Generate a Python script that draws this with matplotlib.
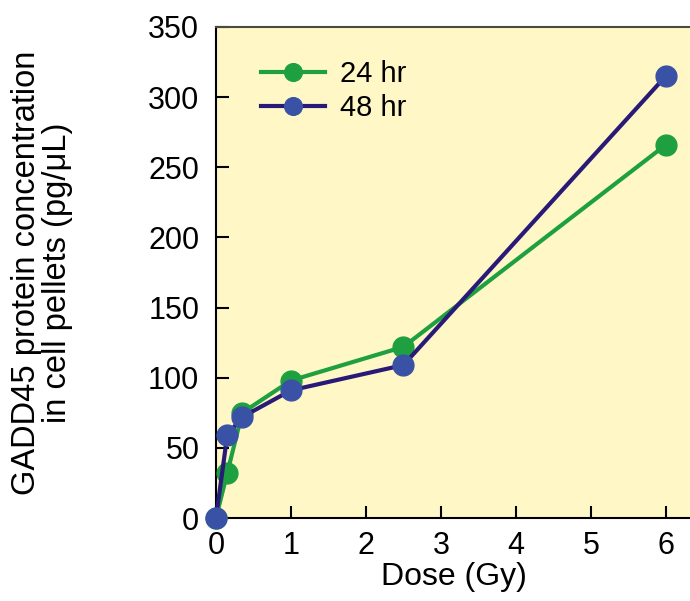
import matplotlib.pyplot as plt

plt.rcParams['font.family'] = ['Liberation Sans', 'DejaVu Sans']

# dose (Gy) and GADD45 concentration (pg/uL)
dose = [0, 0.15, 0.35, 1, 2.5, 6]
conc_24hr = [0, 32, 75, 98, 122, 266]
conc_48hr = [0, 59, 72, 91, 109, 315]

fig = plt.figure(figsize=(6.9, 6.01), dpi=100)
ax = fig.add_axes([216 / 690, 1 - 518 / 601, 476 / 690, 491 / 601])
ax.set_facecolor('#fff8c6')

ax.plot(dose, conc_24hr, color='#1fa040', lw=3, marker='o', ms=15,
        mfc='#1fa040', mec='#1fa040', label='24 hr', clip_on=False, zorder=3)
ax.plot(dose, conc_48hr, color='#2a1a78', lw=3, marker='o', ms=15,
        mfc='#3a52a6', mec='#3a52a6', label='48 hr', clip_on=False, zorder=4)

ax.set_xlim(0, 6.35)
ax.set_ylim(0, 350)
ax.set_xticks([0, 1, 2, 3, 4, 5, 6])
ax.set_yticks([0, 50, 100, 150, 200, 250, 300, 350])

ax.spines['right'].set_visible(False)
ax.spines['top'].set_color('#4a4a40')
for s in ['left', 'bottom', 'top']:
    ax.spines[s].set_linewidth(1.5)

ax.tick_params(direction='in', length=9, width=1.5, labelsize=22)
ax.tick_params(axis='y', pad=12)
ax.tick_params(axis='x', pad=9)

ax.set_xlabel('Dose (Gy)', fontsize=23, labelpad=1)
ax.set_ylabel('GADD45 protein concentration\nin cell pellets (pg/\u03bcL)',
              fontsize=23.5, linespacing=1.0)
ax.yaxis.set_label_coords(-0.30, 0.5)

leg = ax.legend(loc='upper left', frameon=False, fontsize=21,
                bbox_to_anchor=(0.039, 0.986), handlelength=2.2,
                handletextpad=0.5, labelspacing=0.2, markerscale=0.85)

fig.savefig('out.png', dpi=100)
